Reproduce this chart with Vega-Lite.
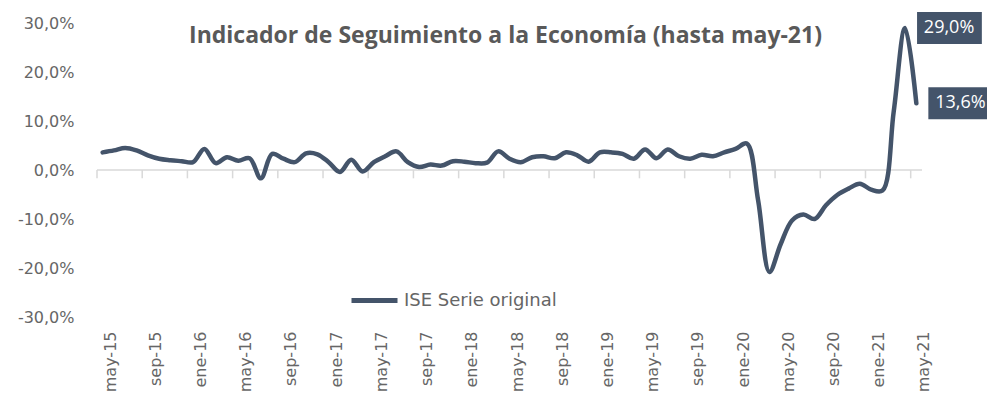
{
  "$schema": "https://vega.github.io/schema/vega-lite/v6.json",
  "width": 825,
  "height": 294,
  "autosize": {"type": "none"},
  "padding": {"left": 97, "top": 23, "right": 65, "bottom": 84},
  "background": "white",
  "config": {"view": {"stroke": null}, "font": "DejaVu Sans"},
  "title": {
    "text": "Indicador de Seguimiento a la Economía (hasta may-21)",
    "font": "Open Sans",
    "fontWeight": "bold",
    "fontSize": 23,
    "color": "#595959",
    "anchor": "middle",
    "baseline": "middle",
    "offset": -47,
    "dx": -4
  },
  "data": {"name": "ise"},
  "datasets": {
    "ise": [
      {"mes": "may-15", "v": 3.6}, {"mes": "jun-15", "v": 4.0}, {"mes": "jul-15", "v": 4.5}, {"mes": "ago-15", "v": 4.0},
      {"mes": "sep-15", "v": 3.0}, {"mes": "oct-15", "v": 2.3}, {"mes": "nov-15", "v": 2.0}, {"mes": "dic-15", "v": 1.8},
      {"mes": "ene-16", "v": 1.6}, {"mes": "feb-16", "v": 4.3}, {"mes": "mar-16", "v": 1.4}, {"mes": "abr-16", "v": 2.6},
      {"mes": "may-16", "v": 1.9}, {"mes": "jun-16", "v": 2.4}, {"mes": "jul-16", "v": -1.7}, {"mes": "ago-16", "v": 3.3},
      {"mes": "sep-16", "v": 2.3}, {"mes": "oct-16", "v": 1.6}, {"mes": "nov-16", "v": 3.4}, {"mes": "dic-16", "v": 3.2},
      {"mes": "ene-17", "v": 1.6}, {"mes": "feb-17", "v": -0.4}, {"mes": "mar-17", "v": 2.1}, {"mes": "abr-17", "v": -0.3},
      {"mes": "may-17", "v": 1.6}, {"mes": "jun-17", "v": 2.8}, {"mes": "jul-17", "v": 3.8}, {"mes": "ago-17", "v": 1.6},
      {"mes": "sep-17", "v": 0.6}, {"mes": "oct-17", "v": 1.1}, {"mes": "nov-17", "v": 0.9}, {"mes": "dic-17", "v": 1.8},
      {"mes": "ene-18", "v": 1.7}, {"mes": "feb-18", "v": 1.4}, {"mes": "mar-18", "v": 1.5}, {"mes": "abr-18", "v": 3.8},
      {"mes": "may-18", "v": 2.3}, {"mes": "jun-18", "v": 1.6}, {"mes": "jul-18", "v": 2.6}, {"mes": "ago-18", "v": 2.8},
      {"mes": "sep-18", "v": 2.4}, {"mes": "oct-18", "v": 3.6}, {"mes": "nov-18", "v": 3.0}, {"mes": "dic-18", "v": 1.7},
      {"mes": "ene-19", "v": 3.6}, {"mes": "feb-19", "v": 3.6}, {"mes": "mar-19", "v": 3.3}, {"mes": "abr-19", "v": 2.3},
      {"mes": "may-19", "v": 4.2}, {"mes": "jun-19", "v": 2.4}, {"mes": "jul-19", "v": 4.2}, {"mes": "ago-19", "v": 2.8},
      {"mes": "sep-19", "v": 2.3}, {"mes": "oct-19", "v": 3.1}, {"mes": "nov-19", "v": 2.8}, {"mes": "dic-19", "v": 3.6},
      {"mes": "ene-20", "v": 4.3}, {"mes": "feb-20", "v": 5.4}, {"mes": "mar-20", "v": -6.2}, {"mes": "abr-20", "v": -20.8},
      {"mes": "may-20", "v": -15.1}, {"mes": "jun-20", "v": -10.3}, {"mes": "jul-20", "v": -9.1}, {"mes": "ago-20", "v": -10.0},
      {"mes": "sep-20", "v": -7.2}, {"mes": "oct-20", "v": -5.1}, {"mes": "nov-20", "v": -3.8}, {"mes": "dic-20", "v": -2.8},
      {"mes": "ene-21", "v": -4.0}, {"mes": "feb-21", "v": -4.2}, {"mes": "mar-21", "v": 12.0}, {"mes": "abr-21", "v": 29.0},
      {"mes": "may-21", "v": 13.6}
    ]
  },
  "encoding": {
    "x": {
      "field": "mes",
      "type": "ordinal",
      "sort": null,
      "scale": {
        "type": "band",
        "paddingInner": 0,
        "paddingOuter": 0,
        "domain": ["may-15","jun-15","jul-15","ago-15","sep-15","oct-15","nov-15","dic-15",
          "ene-16","feb-16","mar-16","abr-16","may-16","jun-16","jul-16","ago-16","sep-16","oct-16","nov-16","dic-16",
          "ene-17","feb-17","mar-17","abr-17","may-17","jun-17","jul-17","ago-17","sep-17","oct-17","nov-17","dic-17",
          "ene-18","feb-18","mar-18","abr-18","may-18","jun-18","jul-18","ago-18","sep-18","oct-18","nov-18","dic-18",
          "ene-19","feb-19","mar-19","abr-19","may-19","jun-19","jul-19","ago-19","sep-19","oct-19","nov-19","dic-19",
          "ene-20","feb-20","mar-20","abr-20","may-20","jun-20","jul-20","ago-20","sep-20","oct-20","nov-20","dic-20",
          "ene-21","feb-21","mar-21","abr-21","may-21"]
      },
      "axis": {
        "values": ["may-15","sep-15","ene-16","may-16","sep-16","ene-17","may-17","sep-17","ene-18","may-18","sep-18","ene-19","may-19","sep-19","ene-20","may-20","sep-20","ene-21","may-21"],
        "orient": "bottom",
        "domain": false,
        "ticks": false,
        "grid": false,
        "title": null,
        "labelAngle": -90,
        "labelAlign": "right",
        "labelBaseline": "top",
        "labelPadding": 14,
        "labelFontSize": 16,
        "labelColor": "#666666",
        "labelFont": "DejaVu Sans"
      }
    }
  },
  "layer": [
    {
      "data": {"values": [{}]},
      "mark": {"type": "rule", "color": "#d9d9d9", "strokeWidth": 1.5},
      "encoding": {"x": null, "y": {"datum": 0, "type": "quantitative", "scale": {"domain": [-30, 30], "nice": false}}}
    },
    {
      "data": {"values": [{"mes": "may-15"},{"mes": "sep-15"},{"mes": "ene-16"},{"mes": "may-16"},{"mes": "sep-16"},{"mes": "ene-17"},{"mes": "may-17"},{"mes": "sep-17"},{"mes": "ene-18"},{"mes": "may-18"},{"mes": "sep-18"},{"mes": "ene-19"},{"mes": "may-19"},{"mes": "sep-19"},{"mes": "ene-20"},{"mes": "may-20"},{"mes": "sep-20"},{"mes": "ene-21"},{"mes": "may-21"}]},
      "mark": {"type": "rule", "color": "#d9d9d9", "strokeWidth": 1.5},
      "encoding": {
        "x": {"field": "mes", "type": "ordinal", "bandPosition": 0},
        "y": {"datum": 0, "type": "quantitative"},
        "y2": {"datum": -1.7}
      }
    },
    {
      "mark": {"type": "line", "strokeWidth": 4.5, "interpolate": "catmull-rom", "strokeCap": "round", "strokeJoin": "round"},
      "encoding": {
        "y": {
          "field": "v",
          "type": "quantitative",
          "scale": {"domain": [-30, 30], "nice": false},
          "axis": {
            "values": [-30, -20, -10, 0, 10, 20, 30],
            "domain": false,
            "ticks": false,
            "grid": false,
            "title": null,
            "labelPadding": 23,
            "labelFontSize": 16,
            "labelColor": "#666666",
            "labelFont": "DejaVu Sans",
            "labelExpr": "(datum.value < 0 ? '-' : '') + replace(format(abs(datum.value), '.1f'), '.', ',') + '%'"
          }
        },
        "color": {
          "datum": "ISE Serie original",
          "type": "nominal",
          "scale": {"range": ["#44546a"]},
          "legend": {
            "title": null,
            "orient": "none",
            "legendX": 252,
            "legendY": 252,
            "padding": 0,
            "symbolType": "stroke",
            "symbolSize": 2116,
            "symbolStrokeWidth": 5,
            "labelFontSize": 18,
            "labelColor": "#666666",
            "labelFont": "DejaVu Sans",
            "labelOffset": 4
          }
        }
      }
    },
    {
      "transform": [{"filter": "datum.mes == 'abr-21' || datum.mes == 'may-21'"}],
      "mark": {"type": "point", "shape": "M0.75,-1H4.8V1H0.75Z", "filled": true, "color": "#44546a", "opacity": 1, "size": 1024, "strokeWidth": 0},
      "encoding": {"y": {"field": "v", "type": "quantitative"}}
    },
    {
      "transform": [
        {"filter": "datum.mes == 'abr-21' || datum.mes == 'may-21'"},
        {"calculate": "replace(format(datum.v, '.1f'), '.', ',') + '%'", "as": "etiqueta"}
      ],
      "mark": {"type": "text", "dx": 44, "align": "center", "baseline": "middle", "color": "white", "font": "Open Sans", "fontSize": 18},
      "encoding": {"y": {"field": "v", "type": "quantitative"}, "text": {"field": "etiqueta"}}
    }
  ]
}
